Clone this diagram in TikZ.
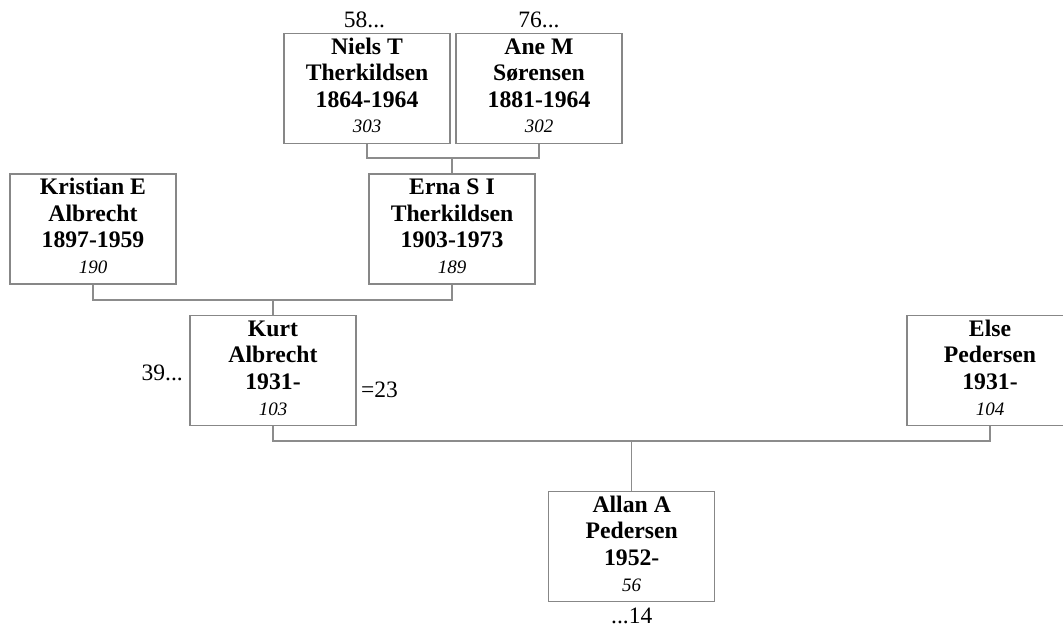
\documentclass[tikz,border=0pt]{standalone}
\usepackage{fontspec}
\setmainfont{Liberation Serif}
\usetikzlibrary{calc}
\definecolor{boxgray}{RGB}{135,135,135}
\definecolor{linegray}{RGB}{140,140,140}
\newcommand{\persontext}[4]{\parbox[c][110pt][t]{166pt}{\centering\fontsize{23.7}{26.5}\selectfont\bfseries\rule{0pt}{20.7pt}#1\\#2\\#3\\[-0.8pt]{\fontsize{19}{25.7}\selectfont\mdseries\itshape #4}\par}}
\begin{document}
\begin{tikzpicture}[x=1pt,y=-1pt,
  person/.style={draw=boxgray, line width=1.2pt, fill=white, inner sep=0pt, minimum width=166pt, minimum height=110pt},
  conn/.style={draw=linegray, line width=1.2pt},
  side/.style={font=\fontsize{23.5}{26}\selectfont, inner sep=0pt}]
\useasboundingbox (0,0) rectangle (1063,628);
% persons
\node[person] (niels) at (367,88.5) {\persontext{Niels T}{Therkildsen}{1864-1964}{303}};
\node[person] (ane) at (539,88.5) {\persontext{Ane M}{Sørensen}{1881-1964}{302}};
\node[person] (kristian) at (93,229) {\persontext{Kristian E}{Albrecht}{1897-1959}{190}};
\node[person] (erna) at (452,229) {\persontext{Erna S I}{Therkildsen}{1903-1973}{189}};
\node[person] (kurt) at (273,370.7) {\persontext{Kurt}{Albrecht}{1931-}{103}};
\node[person] (else) at (990,370.7) {\persontext{Else}{Pedersen}{1931-}{104}};
\node[person] (allan) at (631.7,546.7) {\persontext{Allan A}{Pedersen}{1952-}{56}};
% side labels
\node[side, anchor=base] (l58) at (364.5,28) {58...};
\node[side, anchor=base] (l76) at (539,28) {76...};
\node[side, anchor=base east] (l39) at (183,380) {39...};
\node[side, anchor=base west] (l23) at (361,397) {=23};
\node[side, anchor=base] (l14) at (631.7,623) {...14};
% junctions
\coordinate (j1) at (452,158);
\coordinate (j2) at (273,300);
\coordinate (j3) at (631.7,441);
% connectors
\draw[conn] (niels.south) |- (j1) -| (ane.south);
\draw[conn] (j1) -- (erna.north);
\draw[conn] (kristian.south) |- (j2) -| (erna.south);
\draw[conn] (j2) -- (kurt.north);
\draw[conn] (kurt.south) |- (j3) -| (else.south);
\draw[conn] (j3) -- (allan.north);
\end{tikzpicture}
\end{document}
